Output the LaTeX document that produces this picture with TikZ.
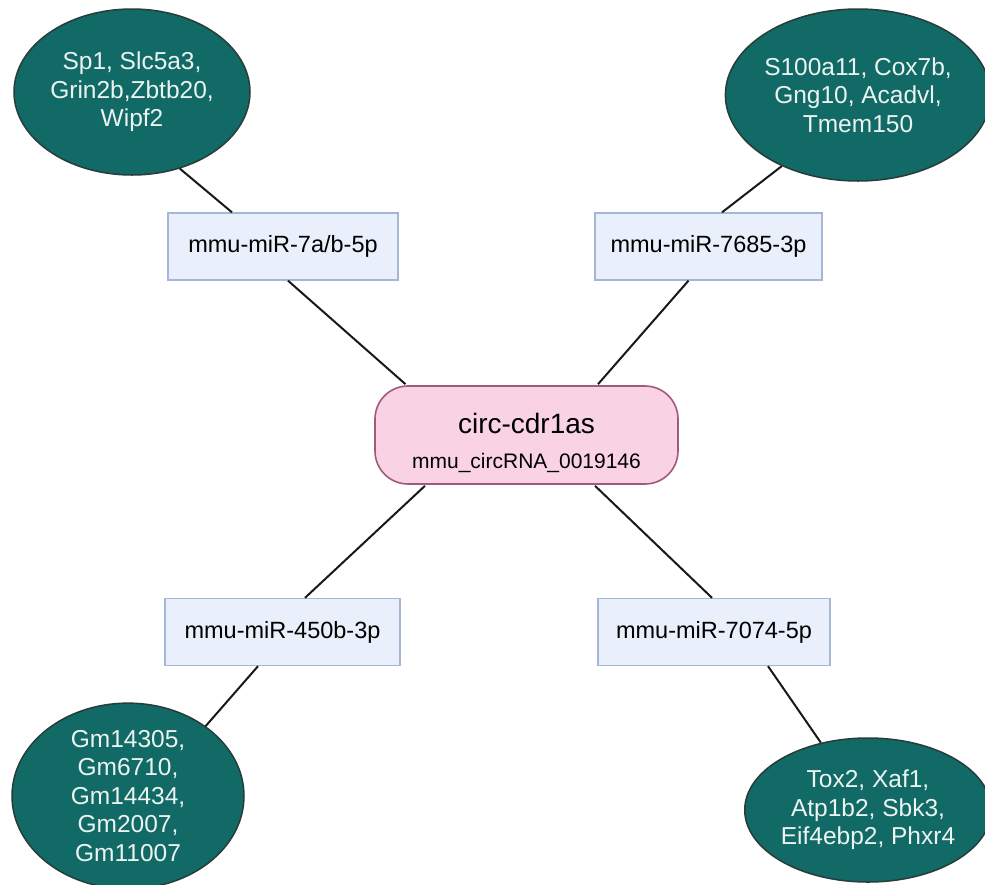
\documentclass[tikz,border=0pt]{standalone}
\usepackage{fontspec}
\setmainfont{Liberation Sans}
\usetikzlibrary{shapes.geometric}
\definecolor{teal1}{RGB}{17,106,101}
\definecolor{tealedge}{RGB}{40,60,58}
\definecolor{gtext}{RGB}{236,244,242}
\definecolor{mirfill}{RGB}{234,240,251}
\definecolor{miredge}{RGB}{165,182,214}
\definecolor{cfill}{RGB}{249,211,228}
\definecolor{cedge}{RGB}{160,90,122}
\begin{document}
\begin{tikzpicture}[x=1pt,y=-1pt,
  gene/.style={ellipse,draw=tealedge,line width=1.5pt,fill=teal1,text=gtext,inner sep=0pt,align=center,font=\fontsize{24.5}{28.5}\selectfont},
  mir/.style={rectangle,draw=miredge,line width=1.3pt,fill=mirfill,inner sep=0pt,minimum height=67pt,font=\fontsize{23.5}{27}\selectfont},
  circ/.style={rectangle,rounded corners=33pt,draw=cedge,line width=1.6pt,fill=cfill,inner sep=0pt,minimum width=303pt,minimum height=98pt,align=center,font=\fontsize{21}{35}\selectfont},
  link/.style={draw=black!90,line width=2pt}]
\useasboundingbox (0,0) rectangle (985,884);
\fill[white] (0,0) rectangle (985,884);
% genes
\node[gene,minimum width=236pt,minimum height=166pt] (e1) at (132,92) {Sp1, Slc5a3,\\Grin2b,Zbtb20,\\Wipf2};
\node[gene,minimum width=248pt,minimum height=172pt] (e2) at (858,95) {S100a11, Cox7b,\\Gng10, Acadvl,\\Tmem150};
\node[gene,minimum width=232pt,minimum height=172pt] (e3) at (128,796) {Gm14305,\\Gm6710,\\Gm14434,\\Gm2007,\\Gm11007};
\node[gene,minimum width=230pt,minimum height=144pt] (e4) at (868,810) {Tox2, Xaf1,\\Atp1b2, Sbk3,\\Eif4ebp2, Phxr4};
% mirnas
\node[mir,minimum width=230pt] (r1) at (283,246.5) {mmu-miR-7a/b-5p};
\node[mir,minimum width=227pt] (r2) at (708.5,246.5) {mmu-miR-7685-3p};
\node[mir,minimum width=235pt] (r3) at (282.5,632) {mmu-miR-450b-3p};
\node[mir,minimum width=232pt] (r4) at (714,632) {mmu-miR-7074-5p};
% center
\node[circ] (c) at (526.5,435) {\rule{0pt}{36pt}{\fontsize{28}{35}\selectfont circ-cdr1as}\\mmu\_circRNA\_0019146};
% links
\draw[link] (e1.-58) -- ([xshift=-51pt]r1.north);
\draw[link] ([xshift=5pt]r1.south) -- ([xshift=-121pt,yshift=1pt]c.north);
\draw[link] ([xshift=71.5pt,yshift=1pt]c.north) -- ([xshift=-20pt]r2.south);
\draw[link] ([xshift=13.5pt]r2.north) -- (e2.223);
\draw[link] ([xshift=-101.5pt,yshift=-1pt]c.south) -- ([xshift=22.5pt]r3.north);
\draw[link] ([xshift=-24.5pt]r3.south) -- (e3.42);
\draw[link] ([xshift=68.5pt,yshift=-1pt]c.south) -- ([xshift=-2pt]r4.north);
\draw[link] ([xshift=54pt]r4.south) -- (e4.125);
\end{tikzpicture}
\end{document}
